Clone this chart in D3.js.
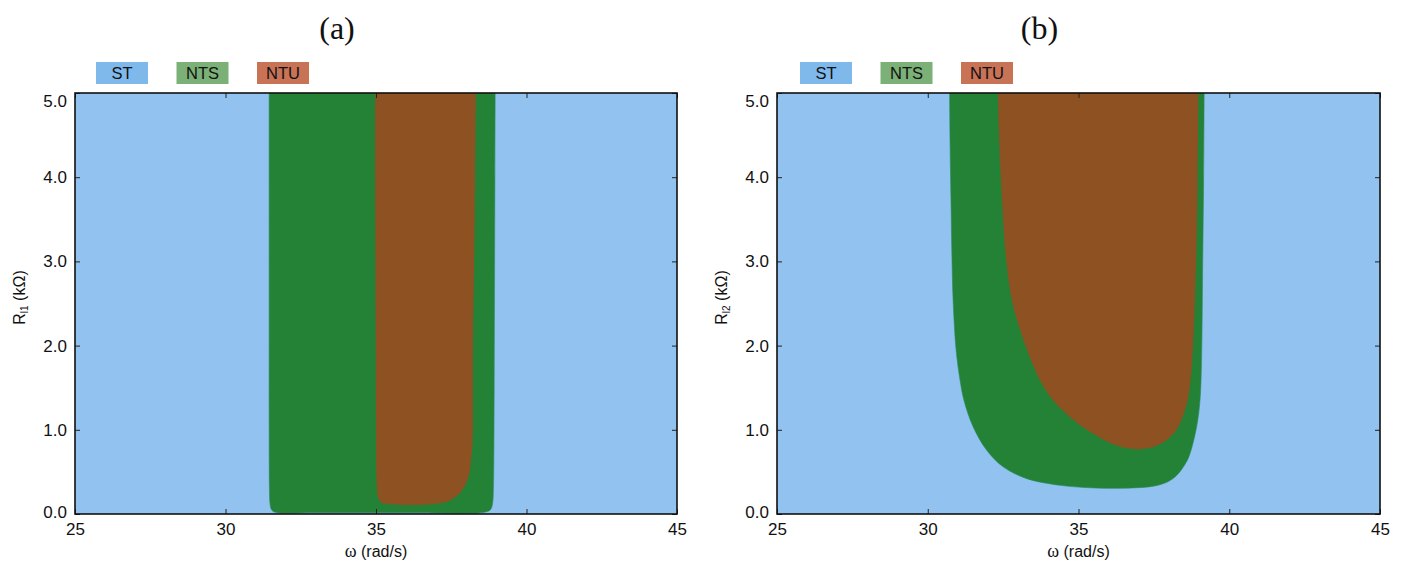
<!DOCTYPE html>
<html>
<head>
<meta charset="utf-8">
<script src="https://cdn.jsdelivr.net/npm/d3@7"></script>
<style>
  html, body { margin: 0; padding: 0; background: #fff; }
  svg { display: block; }
</style>
</head>
<body>
<svg id="chart" width="1405" height="563"></svg>
<script>
// Stability regions in the (omega, R) plane. Each region is a boundary traced
// from the top edge, down and around, back to the top edge, as
// [omega (rad/s), R (kOhm)] pairs; the rest of the plane is ST.
const regionNames = ["ST", "NTS", "NTU"];
const regionColors = ["#92c2f0", "#238236", "#8e5122"];
const legendColors = ["#7fb8eb", "#7bb076", "#c87256"];

// panel (a): R_l1
const ntsA = [
  [31.45, 5.2], [31.45, 4.0], [31.45, 3.0], [31.45, 2.0], [31.45, 1.0], [31.46, 0.3],
  [31.48, 0.12], [31.53, 0.05], [31.65, 0.02], [33.0, 0.015], [36.0, 0.015],
  [38.6, 0.02], [38.8, 0.05], [38.87, 0.12], [38.9, 0.3], [38.92, 1.0],
  [38.93, 2.0], [38.94, 3.0], [38.95, 4.0], [38.96, 5.2]
];
const ntuA = [
  [34.97, 5.2], [34.97, 4.0], [34.98, 3.0], [34.99, 2.0], [35.0, 1.0], [35.02, 0.4],
  [35.07, 0.2], [35.16, 0.14], [35.46, 0.115], [36.2, 0.107], [36.9, 0.12],
  [37.35, 0.146], [37.79, 0.25], [38.07, 0.44], [38.18, 0.72], [38.21, 0.88],
  [38.22, 2.0], [38.26, 3.0], [38.29, 4.0], [38.32, 5.2]
];

// panel (b): R_l2
const ntsB = [
  [30.72, 5.2], [30.74, 4.4], [30.77, 3.74], [30.8, 3.1], [30.84, 2.55], [30.94, 1.95],
  [31.07, 1.59], [31.2, 1.35], [31.5, 1.04], [31.95, 0.76], [32.5, 0.56],
  [33.28, 0.42], [34.4, 0.34], [35.2, 0.315], [35.94, 0.305], [36.8, 0.31],
  [37.48, 0.33], [37.95, 0.38], [38.26, 0.46], [38.55, 0.6], [38.7, 0.72],
  [38.92, 1.04], [39.03, 1.35], [39.08, 1.8], [39.12, 3.0], [39.15, 4.0], [39.17, 5.2]
];
const ntuB = [
  [32.32, 5.2], [32.36, 4.5], [32.45, 3.8], [32.58, 3.1], [32.79, 2.54], [33.29, 1.95],
  [33.72, 1.59], [34.15, 1.35], [34.82, 1.12], [35.55, 0.94], [36.21, 0.82],
  [36.94, 0.77], [37.5, 0.8], [37.93, 0.88], [38.25, 1.0], [38.42, 1.12],
  [38.62, 1.35], [38.72, 1.6], [38.8, 2.0], [38.9, 3.0], [38.95, 4.0], [38.98, 5.2]
];

const xTicks = [25, 30, 35, 40, 45];
const yTicks = [0, 1, 2, 3, 4, 5];
const xDomain = [25, 45];
const yDomain = [0, 5];

const panels = [
  { title: "(a)", sub: "l1", nts: ntsA, ntu: ntuA, left: 75, right: 677, legendX: 96 },
  { title: "(b)", sub: "l2", nts: ntsB, ntu: ntuB, left: 777, right: 1380, legendX: 800 }
];

const svg = d3.select("#chart");
const plotTop = 93, plotBottom = 514;
const sans = '"Liberation Sans", Arial, sans-serif';

panels.forEach((p, i) => {
  const x = d3.scaleLinear().domain(xDomain).range([p.left, p.right]);
  const y = d3.scaleLinear().domain(yDomain).range([plotBottom, plotTop]);
  const g = svg.append("g");

  const clipId = "clip" + i;
  svg.append("clipPath").attr("id", clipId)
    .append("rect").attr("x", p.left).attr("y", plotTop)
    .attr("width", p.right - p.left).attr("height", plotBottom - plotTop);

  const plot = g.append("g").attr("clip-path", `url(#${clipId})`);
  // ST background
  plot.append("rect").attr("x", p.left).attr("y", plotTop)
    .attr("width", p.right - p.left).attr("height", plotBottom - plotTop)
    .attr("fill", regionColors[0]);

  // open smooth boundary; the fill closes it straight across above the frame
  const line = d3.line()
    .x(d => x(d[0])).y(d => y(d[1]))
    .curve(d3.curveCatmullRom.alpha(0.5));

  plot.append("path").datum(p.nts).attr("d", line).attr("fill", regionColors[1])
    .attr("stroke", "#2a8a60").attr("stroke-width", 0.6);
  plot.append("path").datum(p.ntu).attr("d", line).attr("fill", regionColors[2]);

  // axes with inward ticks on all sides
  const fmtY = d3.format(".1f");
  const axB = d3.axisBottom(x).tickValues(xTicks).tickSizeInner(-5).tickSizeOuter(0).tickPadding(9);
  const axT = d3.axisTop(x).tickValues(xTicks).tickSizeInner(-5).tickSizeOuter(0).tickFormat("");
  const axL = d3.axisLeft(y).tickValues(yTicks).tickSizeInner(-5).tickSizeOuter(0).tickPadding(8).tickFormat(fmtY);
  const axR = d3.axisRight(y).tickValues(yTicks).tickSizeInner(-5).tickSizeOuter(0).tickFormat("");

  const gB = g.append("g").attr("transform", `translate(0,${plotBottom})`).call(axB);
  const gT = g.append("g").attr("transform", `translate(0,${plotTop})`).call(axT);
  const gL = g.append("g").attr("transform", `translate(${p.left},0)`).call(axL);
  const gR = g.append("g").attr("transform", `translate(${p.right},0)`).call(axR);
  [gB, gT, gL, gR].forEach(a => {
    a.select(".domain").remove();
    a.selectAll(".tick line").attr("stroke", "#222").attr("stroke-width", 1);
    a.selectAll(".tick text").attr("font-size", 17).attr("fill", "#111").attr("font-family", sans);
  });
  // top label sits just inside the frame
  gL.selectAll(".tick").filter(d => d === 5).select("text").attr("dy", "0.8em");
  gL.selectAll(".tick").filter(d => d === 0).select("text").attr("dy", "0.2em");

  // frame
  g.append("rect").attr("x", p.left).attr("y", plotTop)
    .attr("width", p.right - p.left).attr("height", plotBottom - plotTop)
    .attr("fill", "none").attr("stroke", "#111").attr("stroke-width", 1.6);

  // x label
  const xl = g.append("text").attr("x", (p.left + p.right) / 2).attr("y", 557)
    .attr("text-anchor", "middle").attr("font-size", 16).attr("font-family", sans).attr("fill", "#111");
  xl.append("tspan").attr("font-family", '"Liberation Serif", serif').attr("font-size", 18).text("ω");
  xl.append("tspan").text(" (rad/s)");

  // y label
  const yl = g.append("text")
    .attr("transform", `translate(${p.left - 50},${(plotTop + plotBottom) / 2 - 6}) rotate(-90)`)
    .attr("text-anchor", "middle").attr("font-size", 16).attr("font-family", sans).attr("fill", "#111");
  yl.append("tspan").text("R");
  yl.append("tspan").attr("font-size", 10).attr("dy", 3).text(p.sub);
  yl.append("tspan").attr("dy", -3).text(" (kΩ)");

  // title, set left of the panel centre
  g.append("text").attr("x", (p.left + p.right) / 2 - 39).attr("y", 39)
    .attr("text-anchor", "middle").attr("font-size", 32)
    .attr("font-family", '"Liberation Serif", "DejaVu Serif", serif').attr("fill", "#111")
    .text(p.title);

  // legend
  const lg = g.append("g");
  regionNames.forEach((name, k) => {
    const lx = p.legendX + k * 80.5;
    lg.append("rect").attr("x", lx).attr("y", 62).attr("width", 52).attr("height", 22)
      .attr("fill", legendColors[k]);
    lg.append("text").attr("x", lx + 26).attr("y", 79).attr("text-anchor", "middle")
      .attr("font-size", 16.5).attr("font-family", sans).attr("fill", "#111").text(name);
  });
});
</script>
</body>
</html>
